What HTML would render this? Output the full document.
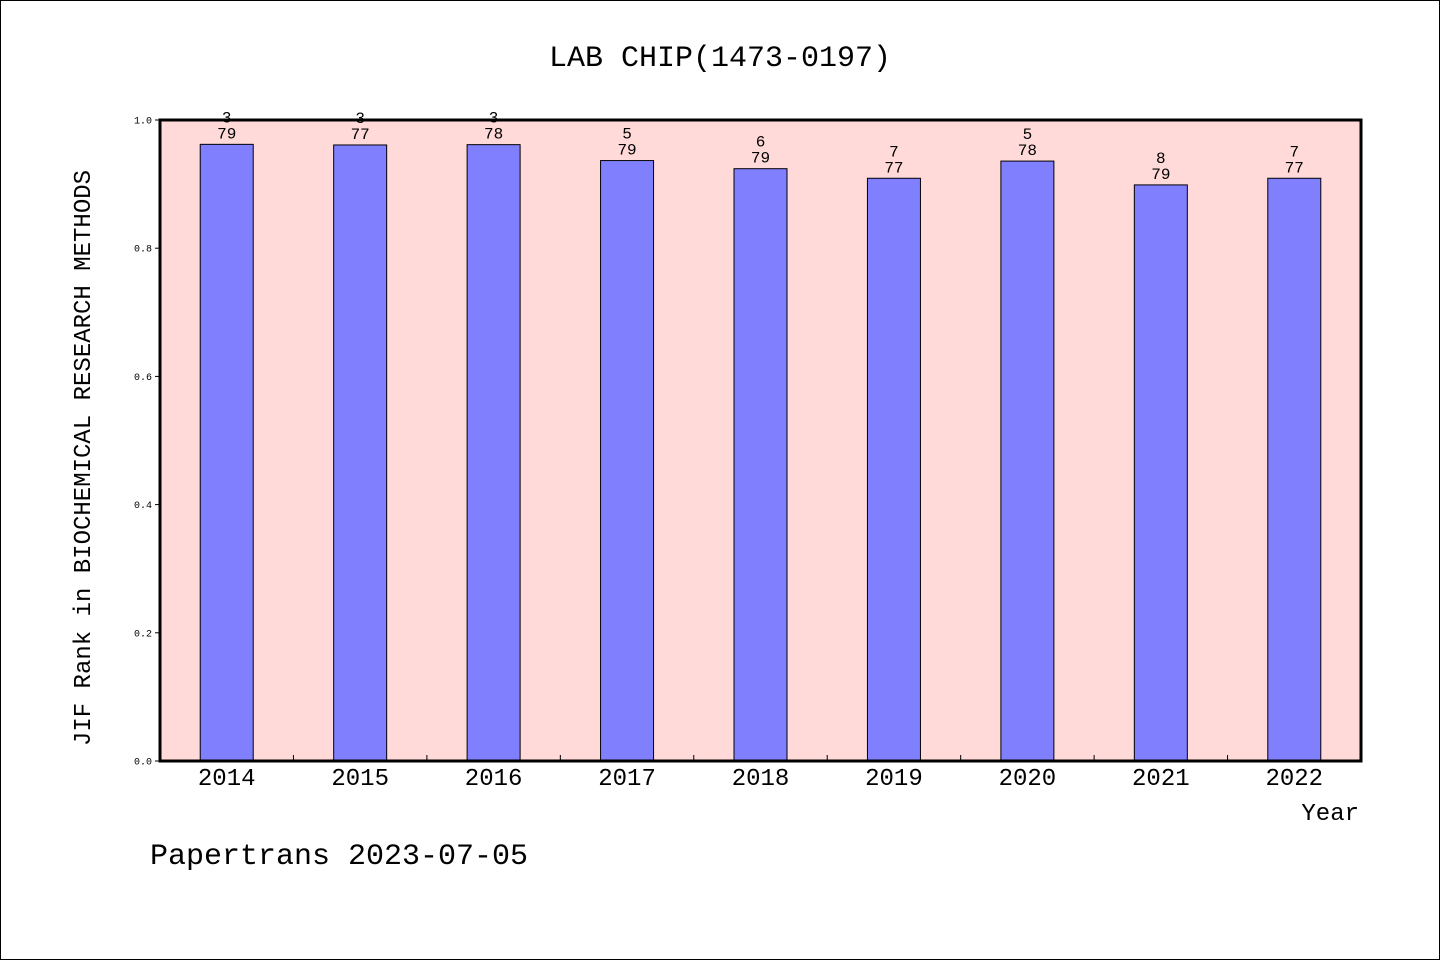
<!DOCTYPE html>
<html><head><meta charset="utf-8"><style>
html,body{margin:0;padding:0;background:#fff}
svg{display:block}
text{font-family:"Liberation Mono","DejaVu Sans Mono",monospace;fill:#000}
</style></head><body>
<svg width="1440" height="960" viewBox="0 0 1440 960">
<rect x="0.5" y="0.5" width="1439" height="959" fill="#fff" stroke="#000"/>
<text x="720" y="66" font-size="30" text-anchor="middle">LAB CHIP(1473-0197)</text>
<rect x="160" y="120" width="1201" height="641" fill="#ffdad8"/>
<g id="bars"></g>
<g id="axes"></g>
<rect x="160" y="120" width="1201" height="641" fill="none" stroke="#000" stroke-width="3"/>
<text transform="translate(90,458) rotate(-90)" font-size="24" text-anchor="middle">JIF Rank in BIOCHEMICAL RESEARCH METHODS</text>
<text x="1359" y="820" font-size="24" text-anchor="end">Year</text>
<text x="150" y="864" font-size="30">Papertrans 2023-07-05</text>
</svg>
<script>
const years=["2014","2015","2016","2017","2018","2019","2020","2021","2022"];
const ranks=[3,3,3,5,6,7,5,8,7];
const totals=[79,77,78,79,79,77,78,79,77];
const yTicks=["0.0","0.2","0.4","0.6","0.8","1.0"];
const NS="http://www.w3.org/2000/svg";
const X0=160,W=1201,Y0=761,H=641;
const band=W/years.length;
const xC=i=>X0+band*(i+0.5);
const yS=v=>Y0-v*H;
function mk(t,a,p){const e=document.createElementNS(NS,t);for(const k in a)e.setAttribute(k,a[k]);p.appendChild(e);return e;}
const bars=document.getElementById('bars'),axes=document.getElementById('axes');
years.forEach((y,i)=>{
 const v=1-ranks[i]/totals[i];
 const r=mk('rect',{x:xC(i)-26.5,y:yS(v),width:53,height:Y0-yS(v),fill:'#8080ff',stroke:'#000','stroke-width':1},bars);
 
 
 const t1=mk('text',{x:xC(i),y:yS(v)-22,'font-size':16,'text-anchor':'middle'},bars);t1.textContent=ranks[i];
 
 
 const t2=mk('text',{x:xC(i),y:yS(v)-6,'font-size':16,'text-anchor':'middle'},bars);t2.textContent=totals[i];
 
 
 const xl=mk('text',{x:xC(i),y:785,'font-size':24,'text-anchor':'middle'},axes);xl.textContent=y;
 
 
 if(i>0){const tk=mk('line',{x1:X0+band*i,x2:X0+band*i,y1:Y0,y2:Y0-6,stroke:'#000'},axes);
 
 }
});
yTicks.forEach(l=>{
 const v=parseFloat(l),y=yS(v);
 const tk=mk('line',{x1:155,x2:160,y1:y,y2:y,stroke:'#000'},axes);
 
 
 const t=mk('text',{x:152,y:y+3.5,'font-size':10,'text-anchor':'end','font-family':'Liberation Sans, sans-serif'},axes);t.textContent=l;
 
 
});
</script>
</body></html>
